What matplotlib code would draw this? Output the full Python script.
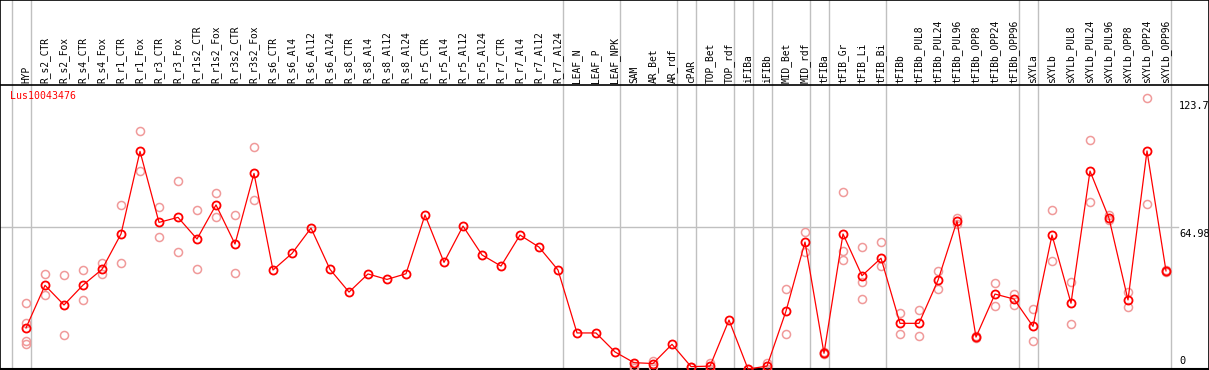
import matplotlib
matplotlib.use("Agg")
import matplotlib.pyplot as plt
import matplotlib.transforms as mtransforms

# sample labels (one column each)
labels = ["HYP", "R_s2_CTR", "R_s2_Fox", "R_s4_CTR", "R_s4_Fox", "R_r1_CTR", "R_r1_Fox",
          "R_r3_CTR", "R_r3_Fox", "R_r1s2_CTR", "R_r1s2_Fox", "R_r3s2_CTR", "R_r3s2_Fox",
          "R_s6_CTR", "R_s6_Al4", "R_s6_Al12", "R_s6_Al24", "R_s8_CTR", "R_s8_Al4",
          "R_s8_Al12", "R_s8_Al24", "R_r5_CTR", "R_r5_Al4", "R_r5_Al12", "R_r5_Al24",
          "R_r7_CTR", "R_r7_Al4", "R_r7_Al12", "R_r7_Al24", "LEAF_N", "LEAF_P", "LEAF_NPK",
          "SAM", "AR_Bet", "AR_rdf", "cPAR", "TOP_Bet", "TOP_rdf", "iFIBa", "iFIBb",
          "MID_Bet", "MID_rdf", "tFIBa", "tFIB_Gr", "tFIB_Li", "tFIB_Bi", "tFIBb",
          "tFIBb_PUL8", "tFIBb_PUL24", "tFIBb_PUL96", "tFIBb_OPP8", "tFIBb_OPP24",
          "tFIBb_OPP96", "sXYLa", "sXYLb", "sXYLb_PUL8", "sXYLb_PUL24", "sXYLb_PUL96",
          "sXYLb_OPP8", "sXYLb_OPP24", "sXYLb_OPP96"]

# mean expression per sample
means = [18.8, 38.3, 29.3, 38.4, 45.6, 61.8, 99.6, 67.1, 69.4, 59.5, 75.1, 57.2, 89.5,
         45.3, 52.9, 64.5, 45.6, 35.2, 43.5, 41.0, 43.6, 70.5, 48.8, 65.4, 52.2, 47.1,
         61.3, 55.8, 45.3, 16.5, 16.5, 7.8, 2.9, 2.5, 11.3, 1.1, 1.3, 22.4, 0.0, 1.3,
         26.5, 58.1, 7.2, 61.8, 42.7, 50.7, 20.9, 20.9, 40.6, 67.7, 14.6, 34.3, 32.0,
         19.5, 61.3, 30.1, 90.6, 69.0, 31.6, 99.8, 44.9]

# replicate values per sample
reps = [[30.1, 21.2, 13.0, 11.4], [43.5, 33.9], [43.0, 15.4], [45.2, 31.6], [48.4, 43.3],
        [74.9, 48.4], [108.8, 90.5], [74.1, 60.4], [86.0, 53.4], [72.6, 45.6],
        [80.5, 69.4], [70.3, 43.9], [101.6, 77.2],
        [], [], [], [], [], [], [], [], [], [], [], [], [], [], [], [], [], [], [],
        [1.4, 0.6], [3.8, 1.0], [], [0.8], [2.9, 0.2], [], [0.0], [2.9, 0.2],
        [36.5, 15.9], [62.7, 53.5], [7.6, 6.8], [80.9, 54.0, 49.9], [55.7, 39.7, 31.9],
        [58.0, 47.1], [25.5, 15.9], [27.0, 15.0], [44.7, 36.5], [69.3, 66.2],
        [15.0, 14.2], [39.2, 28.8], [34.3, 29.1], [27.5, 12.7], [72.8, 49.3],
        [39.7, 20.4], [104.8, 76.4], [70.5, 68.2], [35.1, 28.2], [124.0, 75.4],
        [45.2, 44.6]]

gene = "Lus10043476"
axis_marks = [123.7, 64.98]
group_breaks = [-1, 0, 28, 31, 34, 35, 37, 38, 39, 41, 42, 45, 52, 53, 60]

W, H = 1209, 370
x0, dx = 26, 19          # pixel position of first column, column spacing
y0, dy = 369, 2.185      # pixel row of value 0, pixels per unit

fig = plt.figure(figsize=(W / 100, H / 100), dpi=100)
ax = fig.add_axes([0, 0, 1, 1])
ax.set_xlim(-x0 / dx, (W - x0) / dx)
ax.set_ylim((y0 - H) / dy, y0 / dy)
ax.set_xticks([])
ax.set_yticks([])
for s in ax.spines.values():
    s.set_color("black")
    s.set_linewidth(1.2)

grey = "#c0c0c0"
for b in group_breaks:
    ax.axvline(b + 0.24, color=grey, lw=1, zorder=1)
ax.axhline(axis_marks[1], xmax=1178 / W, color=grey, lw=1, zorder=1)

# header separator and bottom line
ax.axhline((y0 - 85) / dy, color="black", lw=1.2, zorder=2)
ax.axhline(0, color="black", lw=1.5, zorder=2)

xs = list(range(len(labels)))
rx, ry = [], []
for i, r in enumerate(reps):
    for v in r:
        rx.append(i)
        ry.append(v)
ax.plot(rx, ry, ls="none", marker="o", ms=5.8, mfc="none", mec="#f09a9a", mew=1.1, zorder=3)
ax.plot(xs, means, color="red", lw=0.9, marker="o", ms=5.8, mfc="none", mec="red",
        mew=1.3, zorder=4)

mono = "DejaVu Sans Mono"
trans = mtransforms.blended_transform_factory(ax.transData, fig.transFigure)
for i, lab in enumerate(labels):
    ax.text(i, 1 - 83 / H, lab, rotation=90, ha="center", va="bottom",
            fontsize=6.9, family=mono, transform=trans)

ax.text(10 / W, 1 - 91 / H, gene, color="red", fontsize=7.1, family=mono,
        ha="left", va="top", transform=fig.transFigure)

tx = mtransforms.blended_transform_factory(fig.transFigure, ax.transData)
for m in axis_marks:
    ax.text(1179 / W, m - 1.0, f"{m:g}", fontsize=7.4, family=mono, ha="left", va="top",
            transform=tx)
ax.text(1179 / W, 1.5, "0", fontsize=7.4, family=mono, ha="left", va="bottom", transform=tx)

fig.savefig("out.png", dpi=100)
